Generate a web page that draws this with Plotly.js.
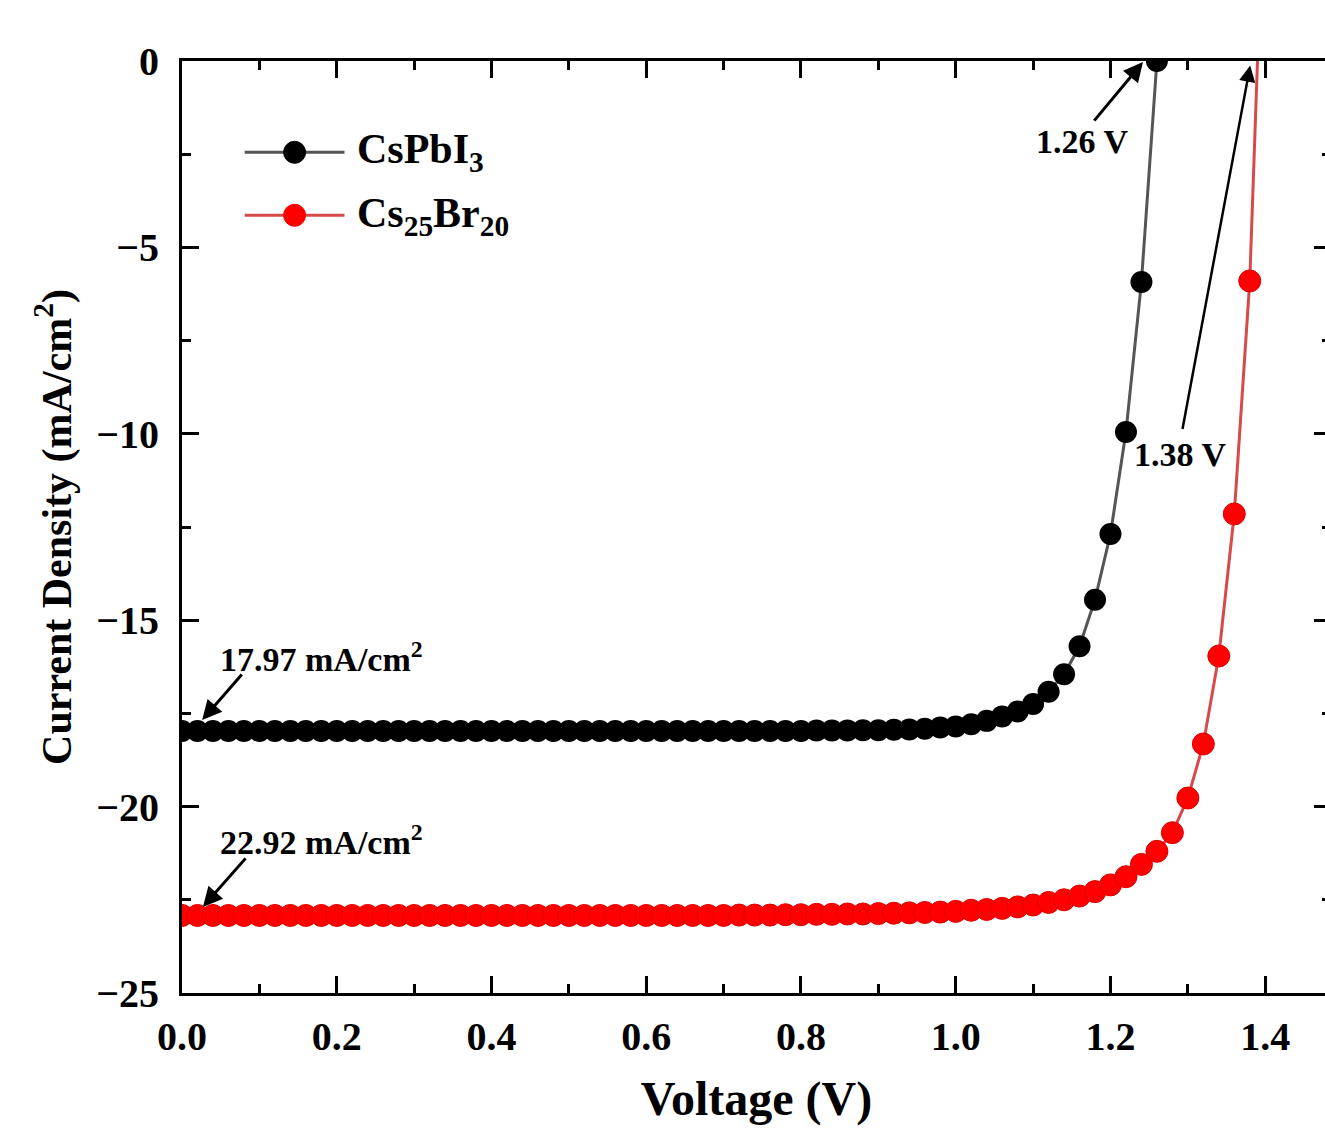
<!DOCTYPE html>
<html>
<head>
<meta charset="utf-8">
<script src="https://cdn.plot.ly/plotly-3.0.1.min.js"></script>
<style>
html, body { margin: 0; padding: 0; overflow: hidden; background: #fff; }
#chart { width: 1360px; height: 1165px; }
</style>
</head>
<body>
<div id="chart"></div>
<script>
// ---- Data ----
const voltageCsPbI3 = [
  0.00, 0.02, 0.04, 0.06, 0.08, 0.10, 0.12, 0.14, 0.16, 0.18,
  0.20, 0.22, 0.24, 0.26, 0.28, 0.30, 0.32, 0.34, 0.36, 0.38,
  0.40, 0.42, 0.44, 0.46, 0.48, 0.50, 0.52, 0.54, 0.56, 0.58,
  0.60, 0.62, 0.64, 0.66, 0.68, 0.70, 0.72, 0.74, 0.76, 0.78,
  0.80, 0.82, 0.84, 0.86, 0.88, 0.90, 0.92, 0.94, 0.96, 0.98,
  1.00, 1.02, 1.04, 1.06, 1.08, 1.10, 1.12, 1.14, 1.16, 1.18,
  1.20, 1.22, 1.24, 1.26
];
const currentCsPbI3 = [
  -17.97, -17.97, -17.97, -17.97, -17.97, -17.97, -17.97, -17.97, -17.97, -17.97,
  -17.97, -17.97, -17.97, -17.97, -17.97, -17.97, -17.97, -17.97, -17.97, -17.97,
  -17.97, -17.97, -17.97, -17.97, -17.97, -17.97, -17.97, -17.97, -17.97, -17.97,
  -17.97, -17.97, -17.97, -17.97, -17.97, -17.97, -17.97, -17.97, -17.97, -17.97,
  -17.97, -17.96, -17.96, -17.96, -17.95, -17.95, -17.94, -17.93, -17.91, -17.88,
  -17.85, -17.79, -17.70, -17.58, -17.45, -17.25, -16.92, -16.45, -15.70, -14.45,
  -12.69, -9.95, -5.93, 0.00
];
const voltageCs25Br20 = [
  0.00, 0.02, 0.04, 0.06, 0.08, 0.10, 0.12, 0.14, 0.16, 0.18,
  0.20, 0.22, 0.24, 0.26, 0.28, 0.30, 0.32, 0.34, 0.36, 0.38,
  0.40, 0.42, 0.44, 0.46, 0.48, 0.50, 0.52, 0.54, 0.56, 0.58,
  0.60, 0.62, 0.64, 0.66, 0.68, 0.70, 0.72, 0.74, 0.76, 0.78,
  0.80, 0.82, 0.84, 0.86, 0.88, 0.90, 0.92, 0.94, 0.96, 0.98,
  1.00, 1.02, 1.04, 1.06, 1.08, 1.10, 1.12, 1.14, 1.16, 1.18,
  1.20, 1.22, 1.24, 1.26, 1.28, 1.30, 1.32, 1.34, 1.36, 1.38,
  1.40
];
const currentCs25Br20 = [
  -22.92, -22.92, -22.92, -22.92, -22.92, -22.92, -22.92, -22.92, -22.92, -22.92,
  -22.92, -22.92, -22.92, -22.92, -22.92, -22.92, -22.92, -22.92, -22.92, -22.92,
  -22.92, -22.92, -22.92, -22.92, -22.92, -22.92, -22.92, -22.92, -22.92, -22.92,
  -22.92, -22.92, -22.92, -22.92, -22.92, -22.92, -22.91, -22.91, -22.91, -22.90,
  -22.90, -22.89, -22.89, -22.88, -22.88, -22.87, -22.86, -22.85, -22.84, -22.83,
  -22.81, -22.78, -22.76, -22.73, -22.69, -22.64, -22.57, -22.50, -22.40, -22.28,
  -22.10, -21.88, -21.55, -21.20, -20.70, -19.77, -18.32, -15.96, -12.15, -5.90,
  5.90
];
const seriesNames = ['CsPbI<sub>3</sub>', 'Cs<sub>25</sub>Br<sub>20</sub>'];
const vocLabels = ['1.26 V', '1.38 V'];
const jscLabels = ['17.97 mA/cm<sup>2</sup>', '22.92 mA/cm<sup>2</sup>'];

const FONT = 'Liberation Serif, Times New Roman, serif';

const traces = [
  {
    x: voltageCsPbI3, y: currentCsPbI3, type: 'scatter', mode: 'lines+markers',
    name: seriesNames[0], showlegend: false,
    line: {color: '#555555', width: 3},
    marker: {color: '#000000', size: 22, line: {width: 0}}
  },
  {
    x: voltageCs25Br20, y: currentCs25Br20, type: 'scatter', mode: 'lines+markers',
    name: seriesNames[1], showlegend: false,
    line: {color: '#d64a4a', width: 3},
    marker: {color: '#ff0000', size: 22, line: {width: 1, color: '#e00000'}}
  }
];

const txtFont = {family: FONT, size: 34, color: '#000'};
const annotations = [
  // Voc labels
  {x: 1.163, y: -2.15, xref: 'x', yref: 'y', text: '<b>' + vocLabels[0] + '</b>', showarrow: false, font: txtFont},
  {x: 1.290, y: -10.55, xref: 'x', yref: 'y', text: '<b>' + vocLabels[1] + '</b>', showarrow: false, font: txtFont},
  // Jsc labels
  {x: 0.180, y: -16.0, xref: 'x', yref: 'y', text: '<b>' + jscLabels[0] + '</b>', showarrow: false, font: txtFont},
  {x: 0.180, y: -20.9, xref: 'x', yref: 'y', text: '<b>' + jscLabels[1] + '</b>', showarrow: false, font: txtFont},
  // arrows (head at x,y; tail offset ax,ay in px)
  {x: 1.242, y: -0.03, xref: 'x', yref: 'y', text: '', showarrow: true, arrowhead: 2, arrowsize: 1.3, arrowwidth: 3, arrowcolor: '#000', ax: -50, ay: 60, standoff: 0},
  {x: 1.3806, y: -0.12, xref: 'x', yref: 'y', text: '', showarrow: true, arrowhead: 2, arrowsize: 1.3, arrowwidth: 2.5, arrowcolor: '#000', ax: -68, ay: 365, standoff: 0},
  {x: 0.026, y: -17.68, xref: 'x', yref: 'y', text: '', showarrow: true, arrowhead: 2, arrowsize: 1.3, arrowwidth: 3, arrowcolor: '#000', ax: 41, ay: -47, standoff: 0},
  {x: 0.027, y: -22.69, xref: 'x', yref: 'y', text: '', showarrow: true, arrowhead: 2, arrowsize: 1.3, arrowwidth: 3, arrowcolor: '#000', ax: 44, ay: -50, standoff: 0},
  // custom legend texts
  {x: 0.2235, y: -2.45, xref: 'x', yref: 'y', xanchor: 'left', text: '<b>' + seriesNames[0] + '</b>', showarrow: false, font: {family: FONT, size: 42, color: '#000'}},
  {x: 0.2235, y: -4.15, xref: 'x', yref: 'y', xanchor: 'left', text: '<b>' + seriesNames[1] + '</b>', showarrow: false, font: {family: FONT, size: 42, color: '#000'}}
];

// legend sample lines and markers
const legendRows = [
  {y: -2.45, line: '#555555', fill: '#000000'},
  {y: -4.14, line: '#d64a4a', fill: '#ff0000'}
];
const shapes = [];
legendRows.forEach(r => {
  shapes.push({type: 'line', xref: 'x', yref: 'y', x0: 0.081, x1: 0.210, y0: r.y, y1: r.y, line: {color: r.line, width: 3}});
  shapes.push({type: 'circle', xref: 'x', yref: 'y', xsizemode: 'pixel', ysizemode: 'pixel',
    xanchor: 0.1455, yanchor: r.y, x0: -11, x1: 11, y0: -11, y1: 11,
    fillcolor: r.fill, line: {color: r.fill, width: 1}});
});

const axisCommon = {
  showline: true, linecolor: '#000', linewidth: 3, mirror: 'ticks',
  ticks: 'inside', ticklen: 17, tickwidth: 3, tickcolor: '#000',
  showgrid: false, zeroline: false,
  tickfont: {family: FONT, size: 40, color: '#000', weight: 'bold'}
};

const layout = {
  width: 1360, height: 1165,
  margin: {l: 182, r: 29, t: 61, b: 172, pad: 0},
  paper_bgcolor: '#fff', plot_bgcolor: '#fff',
  font: {family: FONT, color: '#000'},
  xaxis: Object.assign({}, axisCommon, {
    range: [0, 1.485], dtick: 0.2, tick0: 0, tickformat: '.1f',
    minor: {dtick: 0.1, ticks: 'inside', ticklen: 9, tickwidth: 3, tickcolor: '#000', showgrid: false},
    ticklabelstandoff: 6,
    title: {text: '<b>Voltage (V)</b>', font: {family: FONT, size: 48, color: '#000'}, standoff: 24},
    automargin: false
  }),
  yaxis: Object.assign({}, axisCommon, {
    range: [-25, 0], dtick: 5, tick0: 0,
    minor: {dtick: 2.5, ticks: 'inside', ticklen: 9, tickwidth: 3, tickcolor: '#000', showgrid: false},
    ticklabelstandoff: 12,
    title: {text: '<b>Current Density (mA/cm<sup>2</sup>)</b>', font: {family: FONT, size: 42, color: '#000'}, standoff: 12},
    automargin: false
  }),
  annotations: annotations,
  shapes: shapes,
  showlegend: false
};

Plotly.newPlot('chart', traces, layout, {displayModeBar: false, staticPlot: true});
</script>
</body>
</html>
